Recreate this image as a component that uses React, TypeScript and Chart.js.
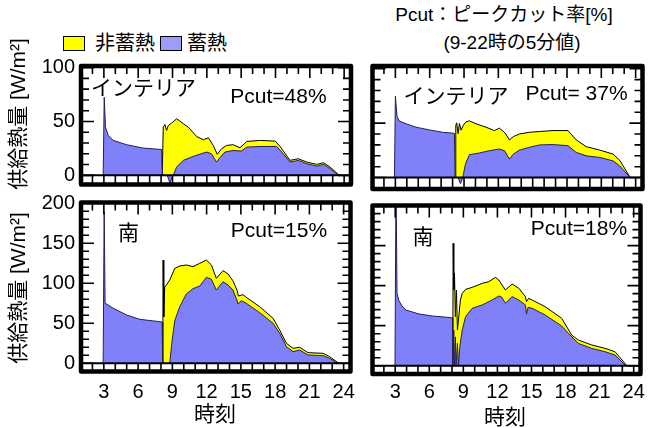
import React, { useEffect, useRef } from "react";
import { Chart, registerables } from "chart.js";

Chart.register(...registerables);

const FONT = "'Liberation Sans', Arial, 'Noto Sans CJK JP', sans-serif";

// ---- axes ----
const X_MIN = 1;
const X_MAX = 24.6;
const X_TICKS = [3, 6, 9, 12, 15, 18, 21, 24];
const X_MINOR_TICKS = [1, 2, 3, 4, 5, 6, 7, 8, 9, 10, 11, 12, 13, 14, 15, 16, 17, 18, 19, 20, 21, 22, 23, 24];
const Y_TICKS_TOP = [0, 50, 100];
const Y_MINOR_TOP = [0, 10, 20, 30, 40, 50, 60, 70, 80, 90, 100];
const Y_TICKS_BOTTOM = [0, 50, 100, 150, 200];
const Y_MINOR_BOTTOM = [0, 10, 20, 30, 40, 50, 60, 70, 80, 90, 100, 110, 120, 130, 140, 150, 160, 170, 180, 190, 200];

// ---- labels ----
const LEGEND_NON = "非蓄熱";
const LEGEND_STORAGE = "蓄熱";
const TITLE_1 = "Pcut：ピークカット率[%]";
const TITLE_2 = "(9-22時の5分値)";
const Y_TITLE = "供給熱量 [W/m²]";
const X_TITLE = "時刻";

// ---- Top-left: インテリア, Pcut=48% ----
const TL_STORAGE_H = [2.94, 3.03, 3.14, 3.38, 3.82, 5.0, 6.44, 8.05, 8.1, 8.54, 8.77, 9.06, 9.36, 9.94, 10.8, 11.98, 12.4, 12.85, 13.14, 13.58, 14.3, 15.0, 15.5, 16.67, 18.1, 18.55, 19.27, 20.0, 20.73, 21.6, 22.2, 22.77, 23.5];
const TL_STORAGE_V = [0, 72.5, 44.7, 37, 32.4, 28.4, 25.3, 24, 0, 0, -7, 0, 7.7, 13.9, 17.6, 21.6, 20, 12.3, 16.4, 21.6, 23.1, 22.5, 26.2, 26.8, 26.8, 21.6, 12.3, 13.9, 10.8, 8.6, 10.2, 6.2, 0];
const TL_NON_H = [8.1, 8.19, 8.33, 8.48, 8.63, 8.92, 9.36, 9.65, 9.94, 10.38, 11.11, 11.7, 12.13, 12.56, 12.91, 13.29, 13.73, 14.3, 14.9, 15.5, 16.67, 17.98, 18.4, 19.27, 20.0, 20.73, 21.6, 22.2, 22.77, 23.58];
const TL_NON_V = [0, 44.7, 47.2, 41.7, 46.3, 48.5, 52.5, 50.3, 48, 44.7, 36, 33, 34.9, 27.8, 19.5, 24.7, 27.8, 28.4, 25.6, 31.5, 32.4, 31.8, 26.8, 13.9, 15.4, 12.3, 10.2, 11.7, 7.7, 0];

// ---- Top-right: インテリア, Pcut=37% ----
const TR_STORAGE_H = [2.92, 3.0, 3.15, 3.35, 3.93, 4.8, 5.97, 7.14, 8.16, 8.22, 8.48, 8.69, 8.89, 9.12, 9.47, 10.35, 11.22, 12.1, 12.54, 12.97, 13.32, 13.85, 14.72, 15.6, 16.77, 18.08, 18.81, 19.68, 20.85, 22.02, 22.6, 23.53];
const TR_STORAGE_V = [0, 74.7, 55.6, 51.9, 49.4, 46.3, 43.8, 41.6, 40.7, 0, 0, -5.6, 0, 12.3, 21, 22.6, 24.7, 26.2, 24.7, 17, 21.6, 25.3, 27.8, 30, 30.3, 29.3, 23.1, 20, 18.5, 15.4, 10.8, 0];
const TR_NON_H = [8.22, 8.28, 8.36, 8.48, 8.6, 8.74, 8.94, 9.17, 9.47, 10.05, 10.92, 11.65, 12.1, 12.6, 12.97, 13.32, 13.85, 14.72, 15.6, 16.77, 18.08, 18.81, 19.68, 20.85, 22.02, 22.6, 23.53];
const TR_NON_V = [0, 48.1, 50.3, 40.4, 49.7, 43.5, 48.1, 51.2, 52.1, 49.4, 46.3, 43.2, 45.4, 40.8, 34.6, 37.7, 40.1, 41.6, 42.3, 43.2, 43.2, 34.6, 28.4, 25.3, 21.6, 16, 0];

// ---- Bottom-left: 南, Pcut=15% ----
const BL_STORAGE_H = [2.94, 3.03, 3.11, 3.38, 3.82, 5.0, 6.15, 7.9, 8.1, 8.16, 8.77, 8.98, 9.21, 9.65, 10.23, 10.8, 11.4, 11.98, 12.42, 12.85, 13.44, 13.88, 14.3, 14.66, 14.75, 15.04, 15.48, 16.65, 17.82, 18.4, 18.99, 19.57, 20.15, 20.88, 22.2, 22.77, 23.5];
const BL_STORAGE_V = [0, 189.6, 75, 72.9, 68.8, 60.4, 55, 52, 51.6, 0, 0, 29, 53.3, 70.8, 86.7, 93.3, 96.6, 107.5, 105, 91.6, 102, 97.9, 91.6, 79, 74, 78.3, 75, 63.3, 50, 37.5, 20.8, 14.6, 16.6, 10.4, 9.6, 6.2, 0];
const BL_NON_H = [8.16, 8.19, 8.25, 8.33, 8.48, 8.77, 9.21, 9.65, 10.23, 10.8, 11.4, 11.98, 12.42, 12.85, 13.44, 13.88, 14.3, 14.66, 14.78, 15.19, 15.48, 16.65, 17.82, 18.4, 18.99, 19.57, 20.15, 20.88, 22.2, 22.77, 23.58];
const BL_NON_V = [0, 129, 58, 95.4, 97.9, 104.1, 118.7, 121.6, 122.9, 120.8, 125, 129.1, 122.9, 106.2, 115.8, 111.6, 103.3, 91.6, 84.1, 85.8, 82.4, 70.8, 56.2, 41.6, 25, 18.7, 20, 13.3, 12.5, 8.3, 0];

// ---- Bottom-right: 南, Pcut=18% ----
const BR_STORAGE_H = [2.98, 3.07, 3.16, 3.3, 3.6, 3.93, 5.1, 6.27, 7.96, 8.04, 8.07, 8.16, 8.22, 8.3, 8.36, 8.48, 8.57, 8.69, 8.9, 9.2, 9.78, 10.66, 11.53, 12.12, 12.4, 12.7, 13.3, 13.88, 14.47, 14.56, 14.7, 15.05, 16.2, 17.66, 18.25, 19.12, 20.3, 21.47, 22.35, 23.31];
const BR_STORAGE_V = [0, 230, 90.4, 82, 74.6, 69.6, 64.6, 62.1, 60, 60, 0, 44.6, 0, 36, 0, 28, 0, 23, 44.6, 61.3, 71.7, 75.9, 82.1, 87.1, 85.4, 78, 86.3, 82.1, 75.9, 64.6, 72.9, 71.7, 63.4, 49.6, 40.4, 27.9, 21.6, 17.5, 13.3, 0];
const BR_NON_H = [8.07, 8.1, 8.16, 8.22, 8.3, 8.39, 8.48, 8.6, 8.74, 8.9, 9.2, 9.78, 10.66, 11.24, 11.82, 12.12, 12.7, 13.3, 13.88, 14.47, 14.56, 14.76, 15.05, 16.2, 17.66, 18.53, 19.12, 20.3, 21.47, 22.35, 23.4];
const BR_NON_V = [0, 153, 94.6, 115.4, 61.3, 94.6, 44.6, 61.3, 82.1, 90.4, 95.4, 97.9, 102.9, 105, 110.4, 107.1, 94.6, 102.1, 96.7, 86.3, 80, 84.2, 82.1, 73.8, 59.2, 38.4, 32.1, 25.9, 21.7, 17.5, 0];

const BLUE = "#8080f8";
const BLUE_LEGEND = "#9c9cfc";
const YELLOW = "#ffff00";

const toPoints = (hs: number[], vs: number[]) => hs.map((x, i) => ({ x, y: vs[i] }));

function makeFramePlugin(yMinor: number[]) {
  return {
    id: "frameTicks",
    afterDraw(chart: any) {
      const ctx: CanvasRenderingContext2D = chart.ctx;
      const a = chart.chartArea;
      const xs = chart.scales.x;
      const ys = chart.scales.y;
      const y0 = ys.getPixelForValue(0);
      ctx.save();
      ctx.strokeStyle = "#000000";
      ctx.lineCap = "butt";
      ctx.lineWidth = 2;
      ctx.beginPath();
      ctx.moveTo(a.left, y0);
      ctx.lineTo(a.right, y0);
      ctx.stroke();
      ctx.lineWidth = 1.6;
      ctx.beginPath();
      X_MINOR_TICKS.forEach((h) => {
        const px = xs.getPixelForValue(h);
        if (px <= a.left + 2 || px >= a.right - 2) return;
        const len = h % 3 === 0 ? 12 : 8;
        ctx.moveTo(px, a.top);
        ctx.lineTo(px, a.top + len);
        ctx.moveTo(px, a.bottom);
        ctx.lineTo(px, y0);
      });
      yMinor.forEach((v) => {
        const py = ys.getPixelForValue(v);
        const len = v % 50 === 0 ? 13 : 8;
        ctx.moveTo(a.left, py);
        ctx.lineTo(a.left + len, py);
        ctx.moveTo(a.right, py);
        ctx.lineTo(a.right - len, py);
      });
      ctx.stroke();
      ctx.lineWidth = 4.5;
      ctx.lineJoin = "round";
      ctx.beginPath();
      ctx.rect(a.left, a.top, a.right - a.left, a.bottom - a.top);
      ctx.stroke();
      ctx.restore();
    },
  };
}

type PanelProps = {
  left: number; top: number; width: number; height: number;
  pad: { left: number; top: number; right: number; bottom: number };
  yMin: number; yMax: number; yTicks: number[]; yMinor: number[];
  showX: boolean; showY: boolean; xH: number; yW: number; xPad: number;
  sH: number[]; sV: number[]; nH: number[]; nV: number[];
};

function Panel(p: PanelProps) {
  const ref = useRef<HTMLCanvasElement>(null);
  useEffect(() => {
    const zeroPad = (s: any) => {
      s.paddingTop = 0; s.paddingBottom = 0; s.paddingLeft = 0; s.paddingRight = 0;
    };
    const chart = new Chart(ref.current!, {
      type: "line",
      data: {
        datasets: [
          {
            label: LEGEND_STORAGE,
            data: toPoints(p.sH, p.sV),
            borderColor: "#202058",
            backgroundColor: BLUE,
            borderWidth: 1,
            pointRadius: 0,
            fill: "origin",
            tension: 0,
          },
          {
            label: LEGEND_NON,
            data: toPoints(p.nH, p.nV),
            borderColor: "#000",
            backgroundColor: YELLOW,
            borderWidth: 1,
            pointRadius: 0,
            fill: "origin",
            tension: 0,
          },
        ],
      },
      options: {
        animation: false,
        responsive: false,
        devicePixelRatio: 1,
        events: [],
        layout: { padding: p.pad, autoPadding: false } as any,
        plugins: { legend: { display: false }, tooltip: { enabled: false } },
        scales: {
          x: {
            type: "linear",
            min: X_MIN,
            max: X_MAX,
            display: p.showX,
            afterBuildTicks: (s: any) => { s.ticks = X_TICKS.map((v) => ({ value: v })); },
            afterFit: (s: any) => { s.height = p.xH; zeroPad(s); },
            grid: { display: false, drawTicks: false },
            border: { display: false },
            ticks: { padding: p.xPad, color: "#000", font: { family: FONT, size: 20 }, maxRotation: 0, autoSkip: false },
          },
          y: {
            type: "linear",
            min: p.yMin,
            max: p.yMax,
            display: p.showY,
            afterBuildTicks: (s: any) => { s.ticks = p.yTicks.map((v) => ({ value: v })); },
            afterFit: (s: any) => { s.width = p.yW; zeroPad(s); },
            grid: { display: false, drawTicks: false },
            border: { display: false },
            ticks: { padding: 6, color: "#000", font: { family: FONT, size: 20 }, autoSkip: false },
          },
        },
      },
      plugins: [makeFramePlugin(p.yMinor)],
    } as any);
    return () => chart.destroy();
  }, []);
  return (
    <canvas
      ref={ref}
      width={p.width}
      height={p.height}
      style={{ position: "absolute", left: p.left, top: p.top, width: p.width, height: p.height }}
    />
  );
}

const T = (props: { text: string; x: number; y: number; size: number; anchor?: "center" | "left"; rotate?: boolean }) => {
  const tx = props.anchor === "left" ? "0" : "-50%";
  return (
    <div
      style={{
        position: "absolute",
        left: props.x,
        top: props.y,
        transform: `translate(${tx}, -50%)${props.rotate ? " rotate(-90deg)" : ""}`,
        whiteSpace: "nowrap",
        fontFamily: FONT,
        fontSize: props.size,
        lineHeight: 1,
        color: "#000",
      }}
    >
      {props.text}
    </div>
  );
};

export default function App() {
  return (
    <div style={{ position: "fixed", left: 0, top: 0, width: 664, height: 428, background: "#fff", overflow: "hidden" }}>
      <Panel left={20} top={56} width={340} height={134}
        pad={{ left: 0, top: 10, right: 9, bottom: 5.5 }}
        yMin={-8.5} yMax={101.5} yTicks={Y_TICKS_TOP} yMinor={Y_MINOR_TOP}
        showX={false} showY={true} xH={0} yW={61} xPad={0}
        sH={TL_STORAGE_H} sV={TL_STORAGE_V} nH={TL_NON_H} nV={TL_NON_V} />
      <Panel left={362} top={56} width={298} height={140}
        pad={{ left: 10.5, top: 10, right: 17.5, bottom: 7 }}
        yMin={-10.5} yMax={102.5} yTicks={Y_TICKS_TOP} yMinor={Y_MINOR_TOP}
        showX={false} showY={false} xH={0} yW={0} xPad={0}
        sH={TR_STORAGE_H} sV={TR_STORAGE_V} nH={TR_NON_H} nV={TR_NON_V} />
      <Panel left={20} top={194} width={340} height={214}
        pad={{ left: 0, top: 8.5, right: 9.5, bottom: 0 }}
        yMin={-10.25} yMax={201} yTicks={Y_TICKS_BOTTOM} yMinor={Y_MINOR_BOTTOM}
        showX={true} showY={true} xH={36.5} yW={61} xPad={8.5}
        sH={BL_STORAGE_H} sV={BL_STORAGE_V} nH={BL_NON_H} nV={BL_NON_V} />
      <Panel left={362} top={194} width={298} height={214}
        pad={{ left: 10.5, top: 11.5, right: 19.5, bottom: 0 }}
        yMin={-10.4} yMax={200.2} yTicks={Y_TICKS_BOTTOM} yMinor={Y_MINOR_BOTTOM}
        showX={true} showY={false} xH={34} yW={0} xPad={6}
        sH={BR_STORAGE_H} sV={BR_STORAGE_V} nH={BR_NON_H} nV={BR_NON_V} />

      {/* legend */}
      <div style={{ position: "absolute", left: 63, top: 36, width: 20, height: 13, background: YELLOW, border: "1px solid #000" }} />
      <T text={LEGEND_NON} x={95} y={43} size={20} anchor="left" />
      <div style={{ position: "absolute", left: 160, top: 36, width: 20, height: 13, background: BLUE_LEGEND, border: "1px solid #000" }} />
      <T text={LEGEND_STORAGE} x={187} y={43} size={20} anchor="left" />

      {/* title */}
      <T text={TITLE_1} x={504} y={14} size={19} />
      <T text={TITLE_2} x={512} y={42} size={19} />

      {/* y titles */}
      <T text={Y_TITLE} x={17} y={114} size={21} rotate />
      <T text={Y_TITLE} x={17} y={288} size={21} rotate />

      {/* x titles */}
      <T text={X_TITLE} x={215} y={413} size={21} />
      <T text={X_TITLE} x={505} y={416} size={21} />

      {/* panel annotations */}
      <T text="インテリア" x={143.5} y={86.5} size={21} />
      <T text="Pcut=48%" x={278.5} y={95} size={21} />
      <T text="インテリア" x={456} y={95} size={21} />
      <T text="Pcut= 37%" x={576.5} y={91.5} size={21} />
      <T text="南" x={128.5} y={232} size={21} />
      <T text="Pcut=15%" x={279} y={228.5} size={21} />
      <T text="南" x={423} y={236} size={21} />
      <T text="Pcut=18%" x={579} y={226.5} size={21} />
    </div>
  );
}
